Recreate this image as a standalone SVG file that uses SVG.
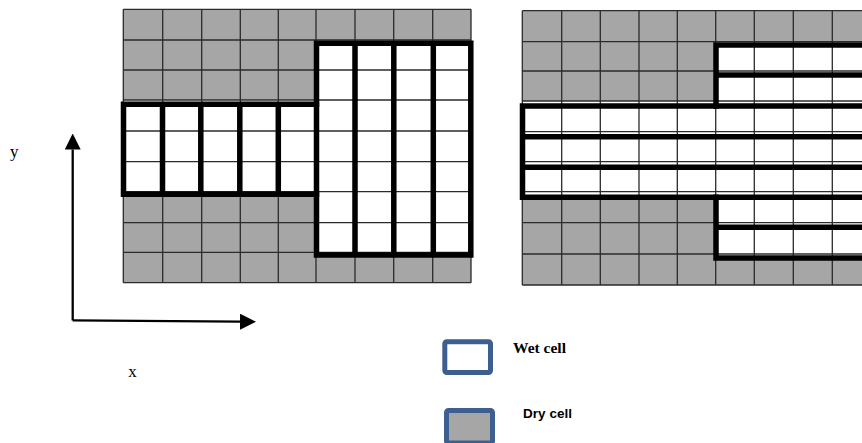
<svg xmlns="http://www.w3.org/2000/svg" width="862" height="443" viewBox="0 0 862 443">
  <defs>
    <style>
      .dry { fill: #a6a6a6; }
      .wet { fill: #ffffff; }
      .thin { stroke: #2b2b2b; stroke-width: 1.3; fill: none; }
      .thick { stroke: #000000; stroke-width: 5.5; fill: none; stroke-linecap: square; }
      .axis { stroke: #000000; stroke-width: 2.3; fill: none; }
      .label { font-family: "Liberation Serif", "Times New Roman", serif; font-size: 17px; fill: #000000; }
      .key-box { stroke: #3d5f8f; stroke-width: 5; }
    </style>
    <marker id="arrow" markerUnits="userSpaceOnUse" viewBox="0 0 16 16" markerWidth="16" markerHeight="16" refX="0" refY="8" orient="auto">
      <path d="M0,0 L16,8 L0,16 z" fill="#000000"/>
    </marker>
  </defs>

  <rect x="0" y="0" width="862" height="443" fill="#ffffff"/>

  <!-- Grid A: column strips -->
  <g id="grid-columns">
    <rect class="dry" x="123.3" y="9.3" width="347.7" height="273.4"/>
    <rect class="wet" x="123.3" y="100" width="193" height="91.7"/>
    <rect class="wet" x="316" y="40" width="155" height="212.3"/>
    <path class="thin" d="M123.3,9.3V282.7 M162.7,9.3V282.7 M201.7,9.3V282.7 M240.3,9.3V282.7 M278.3,9.3V282.7 M316,9.3V282.7 M355,9.3V282.7 M393.7,9.3V282.7 M432.7,9.3V282.7 M471,9.3V282.7
      M123.3,9.3H471 M123.3,40H471 M123.3,70H471 M123.3,100H471 M123.3,131H471 M123.3,161.7H471 M123.3,191.7H471 M123.3,222.7H471 M123.3,252.3H471 M123.3,282.7H471"/>
    <!-- low-lying strip: five columns, three rows -->
    <path class="thick" d="M123.5,104.2H316.5 M123.5,194.2H316.5 M123.5,104.2V194.2 M162.5,104.2V194.2 M200.8,104.2V194.2 M239.8,104.2V194.2 M278.3,104.2V194.2"/>
    <!-- deep strip: four columns, seven rows -->
    <path class="thick" d="M316.5,43.3H470.8V255H316.5Z M355,43.3V255 M393.8,43.3V255 M433.3,43.3V255"/>
  </g>

  <!-- Grid B: row strips -->
  <g id="grid-rows">
    <rect class="dry" x="522.3" y="10.7" width="345" height="274.3"/>
    <rect class="wet" x="716" y="41.7" width="151" height="59.3"/>
    <rect class="wet" x="522.3" y="101" width="345" height="96.3"/>
    <rect class="wet" x="716" y="197.3" width="151" height="60.7"/>
    <path class="thin" d="M522.3,10.7V285 M561.7,10.7V285 M600.3,10.7V285 M639,10.7V285 M677.3,10.7V285 M715.7,10.7V285 M754.3,10.7V285 M793.3,10.7V285 M832.3,10.7V285
      M522.3,10.7H870 M522.3,41.7H870 M522.3,71H870 M522.3,101H870 M522.3,131.7H870 M522.3,161.7H870 M522.3,191.7H870 M522.3,222.7H870 M522.3,254H870 M522.3,285H870"/>
    <path class="thick" d="M716,45H870 M716,75H870 M716,45V106"/>
    <path class="thick" d="M522.5,106H870 M522.5,136.7H870 M522.5,167.3H870 M522.5,197.3H870 M522.5,106V197.3"/>
    <path class="thick" d="M716,227.3H870 M716,258H870 M716,197.3V258"/>
  </g>

  <!-- Coordinate axes -->
  <g id="axes">
    <path class="axis" d="M72.7,320.5V149.5" marker-end="url(#arrow)"/>
    <path class="axis" d="M72.7,320.3L240,321.7" marker-end="url(#arrow)"/>
  </g>
  <g id="axis-labels">
    <text class="label" x="10" y="157">y</text>
    <text class="label" x="128.3" y="377">x</text>
  </g>

  <!-- Legend -->
  <g id="key-wet">
    <rect class="key-box" x="444.8" y="341.8" width="45.7" height="30.7" rx="2" fill="#ffffff"/>
    <text x="513" y="353.3" font-family="'Liberation Serif', 'Times New Roman', serif" font-weight="bold" font-size="15.5px" fill="#000000">Wet cell</text>
  </g>
  <g id="key-dry">
    <rect class="key-box" x="446.5" y="410.5" width="46" height="32.5" rx="2" fill="#a6a6a6"/>
    <text x="523" y="418" font-family="'Liberation Sans', Arial, sans-serif" font-weight="bold" font-size="13.5px" textLength="49" fill="#000000">Dry cell</text>
  </g>
</svg>
